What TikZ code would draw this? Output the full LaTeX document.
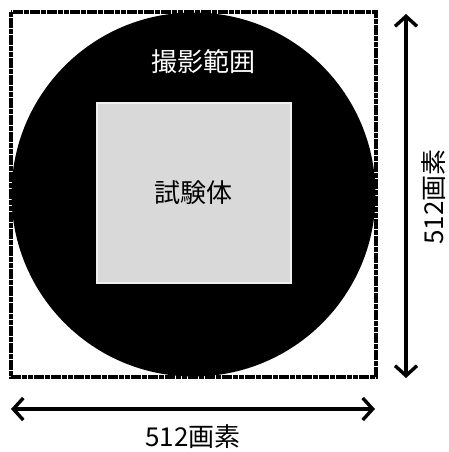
\documentclass[tikz,border=0pt]{standalone}
\usepackage{fontspec}
\setmainfont{Noto Sans CJK JP}
\usetikzlibrary{arrows.meta}
\tikzset{
  fov/.style={fill=black},
  frame/.style={line width=3.2pt, dash pattern=on 5pt off 0.7pt},
  specimen/.style={fill=black!15, draw=black!6, line width=2.2pt},
  dimline/.style={line width=3.4pt,
    {Straight Barb[length=10pt,width=22pt]}-{Straight Barb[length=10pt,width=22pt]}},
  dimtext/.style={font=\fontsize{26}{26}\selectfont, inner sep=0pt}
}
\begin{document}
\begin{tikzpicture}[x=1pt,y=-1pt]
  \useasboundingbox (0,0) rectangle (449,452);

  % field of view and specimen
  \fill[fov] (193.5,194.5) circle (182);
  \draw[frame] (11,12) rectangle (376,377);
  \draw[specimen] (97,103) rectangle (291,283);
  \node[dimtext, text=white] (fovtext) at (203,62) {撮影範囲};
  \node[dimtext] (spectext) at (193,193) {試験体};

  % dimensions
  \coordinate (vtop) at (406,14);
  \coordinate (vbot) at (406,378);
  \coordinate (hleft) at (11,409);
  \coordinate (hright) at (375,409);
  \draw[dimline] (vtop) -- (vbot);
  \draw[dimline] (hleft) -- (hright);
  \node[dimtext, rotate=90] (vtext) at (434,197) {512画素};
  \node[dimtext] (htext) at (193,437) {512画素};
\end{tikzpicture}
\end{document}
